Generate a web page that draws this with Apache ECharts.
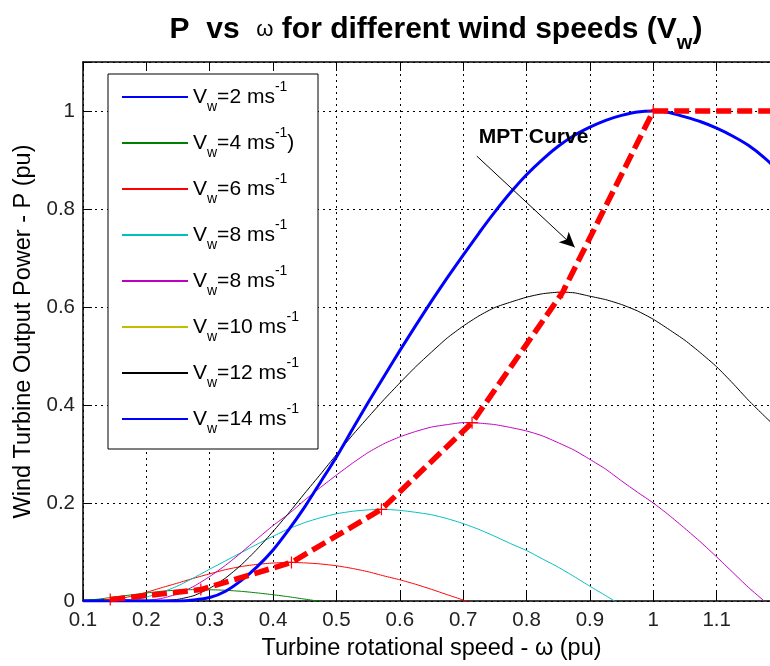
<!DOCTYPE html>
<html>
<head>
<meta charset="utf-8">
<script src="https://cdn.jsdelivr.net/npm/echarts@6/dist/echarts.min.js"></script>
<style>html,body{margin:0;padding:0;background:#fff}#c{width:770px;height:666px}</style>
</head>
<body>
<div id="c"></div>
<script>
// rotational speed (pu) sample points
const omega = [0.100,0.125,0.150,0.175,0.200,0.225,0.250,0.275,0.300,0.325,0.350,0.375,0.400,0.425,0.450,0.475,0.500,0.525,0.550,0.575,0.600,0.625,0.650,0.675,0.700,0.725,0.750,0.775,0.800,0.825,0.850,0.875,0.900,0.925,0.950,0.975,1.000,1.025,1.050,1.075,1.100,1.125,1.150,1.175,1.200];
// output power (pu) for each curve (legend order)
const pV2  = [0.0020,0.0028,0.0029,0.0025,0.0016,0.0005,-0.001];
const pV4  = [0.0010,0.0039,0.0082,0.0123,0.0164,0.0200,0.0222,0.0232,0.0230,0.0219,0.0197,0.0165,0.0128,0.0086,0.0038,-0.001];
const pV6  = [0,0.0004,0.0033,0.0093,0.0177,0.0275,0.0368,0.0465,0.0555,0.0640,0.0704,0.0748,0.0775,0.0787,0.0778,0.0756,0.0719,0.0665,0.0597,0.0512,0.0433,0.0341,0.0238,0.0128,0.002,-0.009];
const pV8a = [0,0,0.0002,0.002,0.008,0.018,0.031,0.0475,0.065,0.082,0.099,0.116,0.132,0.1475,0.160,0.170,0.178,0.183,0.186,0.187,0.185,0.181,0.176,0.168,0.158,0.146,0.132,0.117,0.103,0.086,0.069,0.050,0.030,0.011,-0.009];
const pV8b = [0,0,0,0,0.001,0.0055,0.015,0.030,0.050,0.073,0.099,0.127,0.154,0.178,0.206,0.232,0.257,0.281,0.303,0.321,0.335,0.346,0.355,0.360,0.364,0.363,0.360,0.354,0.347,0.337,0.323,0.308,0.289,0.269,0.245,0.222,0.200,0.175,0.148,0.120,0.090,0.059,0.028,0.000];
const pV10 = [];
const pV12 = [0,0,0,0,0,0.001,0.0035,0.011,0.026,0.047,0.074,0.106,0.142,0.180,0.220,0.259,0.299,0.338,0.375,0.411,0.445,0.478,0.508,0.537,0.561,0.582,0.599,0.610,0.620,0.627,0.630,0.629,0.622,0.615,0.605,0.592,0.575,0.554,0.532,0.506,0.478,0.445,0.410,0.378,0.347];
const pV14 = [0,0,0,0,0,0,0,0.002,0.007,0.020,0.042,0.070,0.104,0.146,0.192,0.243,0.294,0.350,0.405,0.458,0.511,0.562,0.612,0.660,0.706,0.751,0.794,0.834,0.870,0.901,0.928,0.950,0.967,0.981,0.991,0.998,1.000,0.997,0.988,0.978,0.965,0.949,0.930,0.905,0.875];
// maximum power tracking curve
const mptOmega = [0.143,0.286,0.429,0.571,0.714,0.857,1.000,1.200];
const mptP     = [0.0029,0.0233,0.0787,0.187,0.364,0.630,1.000,1.000];
// annotation arrow (data coords) and label
const arrowFrom = [0.7215, 0.908];
const arrowTo   = [0.876, 0.722];
const mptLabelAt = [0.811, 0.947];
// legend
const legendKeys  = ['v2','v4','v6','v8a','v8b','v10','v12','v14'];
const legendText  = ['=2 ms','=4 ms','=6 ms','=8 ms','=8 ms','=10 ms','=12 ms','=14 ms'];
const legendTail  = ['',')','','','','','',''];
const curveColors = ['#0000FF','#008000','#FF0000','#00BFBF','#BF00BF','#BFBF00','#000000','#0000FF'];
const curveWidths = [1,1,1,1,1,1,1,3];
const curveData   = [pV2,pV4,pV6,pV8a,pV8b,pV10,pV12,pV14];
// axis ticks
const xTicks = {min:0.1, max:1.2, step:0.1};
const yTicks = {min:0, max:1.1, step:0.2};

const FONT = '"Liberation Sans", Arial, Helvetica, sans-serif';
function pairs(ys){ return ys.map((y,i)=> (y==null? null : [omega[i], y])).filter(Boolean); }

const chart = echarts.init(document.getElementById('c'), null, {renderer:'canvas'});

const series = legendKeys.map((k,i)=>({
  name:k, type:'line', data:pairs(curveData[i]), symbol:'none', smooth:0.2,
  lineStyle:{color:curveColors[i], width:curveWidths[i]}, itemStyle:{color:curveColors[i]},
  z: i===7 ? 4 : 3, clip:true, silent:true
}));

series.push({
  name:'MPT', type:'line',
  data: mptOmega.map((w,i)=> i<mptOmega.length-1 ? {value:[w,mptP[i]]} : {value:[w,mptP[i]], symbol:'none'}),
  symbol:'path://M0 5L10 5M5 0L5 10', symbolSize:12, showSymbol:true,
  itemStyle:{color:'none', borderColor:'#FF0000', borderWidth:1.2},
  lineStyle:{color:'#FF0000', width:5.5, type:[15,6], cap:'butt'},
  z:5, clip:true, silent:true
});

series.push({
  name:'annot', type:'line', data:[], silent:true, z:6,
  markLine:{
    silent:true, symbol:['none','arrow'], symbolSize:[11,15],
    lineStyle:{color:'#000', width:1, type:'solid'},
    label:{show:false},
    data:[[{coord:arrowFrom},{coord:arrowTo}]]
  },
  markPoint:{
    silent:true, symbol:'rect', symbolSize:1, itemStyle:{color:'rgba(0,0,0,0)'},
    label:{show:true, position:'inside', formatter:'MPT Curve', fontFamily:FONT, fontWeight:'bold', fontSize:21, color:'#000'},
    data:[{coord:mptLabelAt}]
  }
});

const option = {
  animation:false,
  backgroundColor:'#fff',
  title:{
    text:'{b|P  vs  }{om|ω}{b| for different wind speeds (V}{sub|w}{b|)}',
    left:431, top:2, textAlign:'center',
    textStyle:{
      rich:{
        b:{fontFamily:FONT, fontWeight:'bold', fontSize:30, color:'#000', lineHeight:46, verticalAlign:'middle'},
        om:{fontFamily:FONT, fontWeight:'normal', fontSize:22, color:'#000', lineHeight:46, verticalAlign:'middle'},
        sub:{fontFamily:FONT, fontWeight:'bold', fontSize:20, color:'#000', lineHeight:22, verticalAlign:'bottom'}
      }
    }
  },
  grid:{left:83, top:62, width:697, height:539, containLabel:false, outerBoundsMode:'none'},
  legend:{
    data:legendKeys, orient:'vertical', left:108, top:74,
    itemWidth:66, itemHeight:14, itemGap:12,
    padding:[6,19,13,13],
    backgroundColor:'#fff', borderColor:'#000', borderWidth:1,
    selectedMode:false, z:10,
    itemStyle:{opacity:0, borderWidth:0},
    formatter: name => { const i = legendKeys.indexOf(name); return '{v|V}{sub|w}{v|'+legendText[i]+'}{sup|-1}' + (legendTail[i] ? '{v|'+legendTail[i]+'}' : ''); },
    textStyle:{
      rich:{
        v:{fontFamily:FONT, fontSize:21, color:'#000', lineHeight:34, verticalAlign:'middle'},
        sub:{fontFamily:FONT, fontSize:14, color:'#000', lineHeight:18, verticalAlign:'bottom'},
        sup:{fontFamily:FONT, fontSize:14, color:'#000', lineHeight:22, verticalAlign:'top'}
      }
    }
  },
  xAxis:[{
    type:'value', min:xTicks.min, max:xTicks.max, interval:xTicks.step, position:'bottom',
    name:'Turbine rotational speed - ω (pu)', nameLocation:'middle', nameGap:36,
    nameTextStyle:{fontFamily:FONT, fontSize:23.5, color:'#000'},
    axisLine:{show:true, onZero:false, lineStyle:{color:'#000', width:1.5}},
    axisTick:{show:true, inside:true, length:9, lineStyle:{color:'#000', width:1}},
    axisLabel:{fontFamily:FONT, fontSize:20.5, color:'#222', margin:9,
      formatter: v => { const r = Math.round(v*10)/10; return r > 1.15 ? '' : String(r); }},
    splitLine:{show:true, lineStyle:{color:'#000', width:1, type:[2,4]}}
  },{
    type:'value', min:xTicks.min, max:xTicks.max, interval:xTicks.step, position:'top',
    axisLine:{show:true, onZero:false, lineStyle:{color:'#000', width:1.5}},
    axisTick:{show:true, inside:true, length:9, lineStyle:{color:'#000', width:1}},
    axisLabel:{show:false}, splitLine:{show:false}
  }],
  yAxis:{
    type:'value', min:yTicks.min, max:yTicks.max, interval:yTicks.step,
    name:'Wind Turbine Output Power - P (pu)', nameLocation:'middle', nameGap:40, nameRotate:90,
    nameTextStyle:{fontFamily:FONT, fontSize:23.5, color:'#000'},
    axisLine:{show:true, lineStyle:{color:'#000', width:1.5}},
    axisTick:{show:true, inside:true, length:9, lineStyle:{color:'#000', width:1}},
    axisLabel:{fontFamily:FONT, fontSize:20.5, color:'#222', margin:8,
      formatter: v => { const r = Math.round(v*10)/10; return r > 1.05 ? '' : String(r); }},
    splitLine:{show:true, lineStyle:{color:'#000', width:1, type:[2,4]}}
  },
  series: series
};
chart.setOption(option);
</script>
</body>
</html>
